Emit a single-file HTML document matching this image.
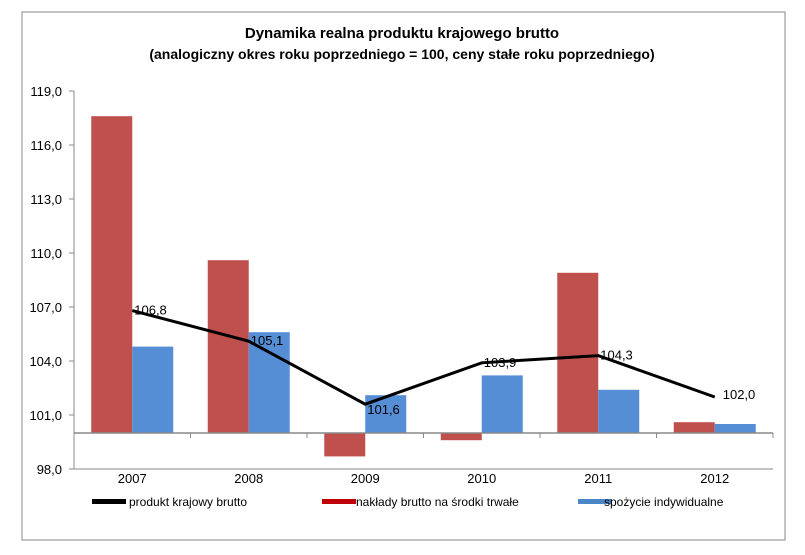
<!DOCTYPE html>
<html><head><meta charset="utf-8"><style>
body{margin:0;background:#fff;font-family:"Liberation Sans",sans-serif}
svg text{font-family:"Liberation Sans",sans-serif}
</style></head><body>
<svg width="805" height="550">
<rect x="22" y="12" width="763" height="528" fill="#fff" stroke="#888"/>
<text x="402" y="38" text-anchor="middle" font-size="15" font-weight="bold">Dynamika realna produktu krajowego brutto</text>
<text x="402" y="59" text-anchor="middle" font-size="14" font-weight="bold">(analogiczny okres roku poprzedniego = 100, ceny stałe roku poprzedniego)</text>
<g id="plot"></g>
<g>
<rect x="92" y="499" width="34" height="5" fill="#000"/>
<text x="129" y="506" font-size="12">produkt krajowy brutto</text>
<rect x="322" y="499" width="34" height="5" fill="#c00000"/>
<text x="356" y="506" font-size="12">nakłady brutto na środki trwałe</text>
<rect x="578" y="499" width="34" height="5" fill="#4a86c8"/>
<text x="604" y="506" font-size="12">spożycie indywidualne</text>
</g>
</svg>
<script>
const categories=["2007","2008","2009","2010","2011","2012"];
const naklady=[117.6,109.6,98.7,99.6,108.9,100.6];
const spozycie=[104.8,105.6,102.1,103.2,102.4,100.5];
const pkb=[106.8,105.1,101.6,103.9,104.3,102.0];
const pkbLabels=["106,8","105,1","101,6","103,9","104,3","102,0"];
const yTicks=[98,101,104,107,110,113,116,119];
const yTickLabels=["98,0","101,0","104,0","107,0","110,0","113,0","116,0","119,0"];
const NS="http://www.w3.org/2000/svg";
const g=document.getElementById('plot');
const L=74,R=773,T=91,B=469,yMin=98,yMax=119,base=100;
const y=v=>B-(v-yMin)/(yMax-yMin)*(B-T);
const band=(R-L)/categories.length;
const xc=i=>L+band*(i+0.5);
function mk(t,a){const e=document.createElementNS(NS,t);for(const k in a)e.setAttribute(k,a[k]);g.appendChild(e);return e;}
let e=mk('polyline',{points:`${L},${T} ${L},${B} ${R},${B}`,fill:'none',stroke:'#888'});


yTicks.forEach((t,i)=>{
 const l=mk('line',{x1:L-5,x2:L,y1:y(t),y2:y(t),stroke:'#888'});
 
 
 const tx=mk('text',{x:L-12,y:y(t)+5,'text-anchor':'end','font-size':13});
 tx.textContent=yTickLabels[i];
 
 
});
const bw=41;
categories.forEach((c,i)=>{
 const r1=mk('rect',{x:xc(i)-bw,y:Math.min(y(naklady[i]),y(base)),width:bw,height:Math.abs(y(naklady[i])-y(base)),fill:'#c0504d'});
 
 
 const r2=mk('rect',{x:xc(i),y:Math.min(y(spozycie[i]),y(base)),width:bw,height:Math.abs(y(spozycie[i])-y(base)),fill:'#558ed5'});
 
 
 const tx=mk('text',{x:xc(i),y:B+14,'text-anchor':'middle','font-size':13});
 tx.textContent=c;
 
 
});
e=mk('line',{x1:L,x2:R,y1:y(base),y2:y(base),stroke:'#888','stroke-width':1.5});


categories.forEach((c,i)=>{const l=mk('line',{x1:L+band*(i+1),x2:L+band*(i+1),y1:y(base),y2:y(base)+5,stroke:'#888'});
 
 });
e=mk('polyline',{points:pkb.map((v,i)=>xc(i)+','+y(v)).join(' '),fill:'none',stroke:'#000','stroke-width':3});


pkb.forEach((v,i)=>{
 const tx=mk('text',{x:xc(i)+(i==5?8:2),y:y(v)+(i==5?2:(i==2?10:4)),'font-size':13});
 tx.textContent=pkbLabels[i];
 
 
});
</script>
</body></html>
